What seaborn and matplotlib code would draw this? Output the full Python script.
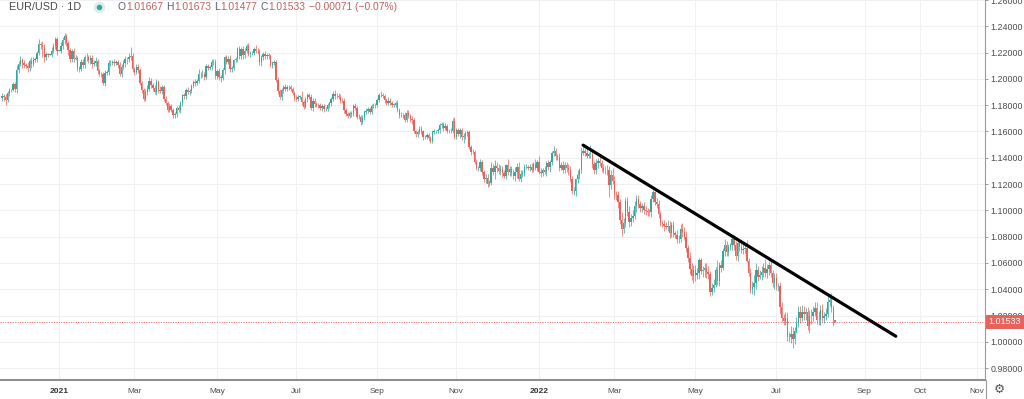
import numpy as np
import pandas as pd
import matplotlib
matplotlib.use("Agg")
import matplotlib.pyplot as plt
import seaborn as sns

# EUR/USD daily candles, first bar 2020-11-19, last bar 2022-08-16
first_open = 1.1855

closes = [
    # Nov 2020
    1.1870, 1.1860, 1.1840, 1.1890, 1.1915, 1.1915, 1.1960, 1.1925,
    # Dec 2020
    1.2070, 1.2115, 1.2145, 1.2120, 1.2105, 1.2100, 1.2080, 1.2135, 1.2110, 1.2145,
    1.2150, 1.2200, 1.2265, 1.2255, 1.2240, 1.2165, 1.2190, 1.2185, 1.2185, 1.2215,
    1.2250, 1.2300, 1.2215,
    # Jan 2021
    1.2215, 1.2250, 1.2295, 1.2325, 1.2270, 1.2220, 1.2150, 1.2210, 1.2155, 1.2160,
    1.2080, 1.2075, 1.2130, 1.2105, 1.2165, 1.2170, 1.2140, 1.2160, 1.2110, 1.2120,
    1.2135,
    # Feb 2021
    1.2060, 1.2040, 1.2035, 1.1965, 1.2045, 1.2050, 1.2120, 1.2120, 1.2130, 1.2120,
    1.2125, 1.2105, 1.2040, 1.2090, 1.2120, 1.2155, 1.2150, 1.2165, 1.2175, 1.2075,
    # Mar 2021
    1.2050, 1.2090, 1.2065, 1.1965, 1.1915, 1.1850, 1.1900, 1.1925, 1.1985, 1.1950,
    1.1930, 1.1900, 1.1975, 1.1915, 1.1905, 1.1935, 1.1850, 1.1815, 1.1765, 1.1795,
    1.1765, 1.1725, 1.1730,
    # Apr 2021
    1.1780, 1.1760, 1.1815, 1.1875, 1.1870, 1.1915, 1.1900, 1.1910, 1.1945, 1.1980,
    1.1965, 1.1985, 1.2035, 1.2035, 1.2035, 1.2015, 1.2095, 1.2085, 1.2090, 1.2125,
    1.2125, 1.2020,
    # May 2021
    1.2060, 1.2015, 1.2005, 1.2065, 1.2165, 1.2130, 1.2150, 1.2075, 1.2080, 1.2140,
    1.2150, 1.2225, 1.2175, 1.2225, 1.2180, 1.2215, 1.2250, 1.2190, 1.2195, 1.2195,
    1.2225,
    # Jun 2021
    1.2215, 1.2210, 1.2125, 1.2165, 1.2190, 1.2175, 1.2180, 1.2175, 1.2105, 1.2120,
    1.2125, 1.1995, 1.1905, 1.1860, 1.1915, 1.1940, 1.1925, 1.1935, 1.1935, 1.1925,
    1.1895, 1.1855,
    # Jul 2021
    1.1850, 1.1865, 1.1865, 1.1825, 1.1790, 1.1845, 1.1875, 1.1860, 1.1775, 1.1835,
    1.1810, 1.1805, 1.1800, 1.1780, 1.1795, 1.1770, 1.1770, 1.1800, 1.1815, 1.1845,
    1.1885, 1.1870,
    # Aug 2021
    1.1870, 1.1865, 1.1835, 1.1830, 1.1760, 1.1735, 1.1720, 1.1740, 1.1730, 1.1795,
    1.1780, 1.1710, 1.1710, 1.1675, 1.1700, 1.1745, 1.1755, 1.1770, 1.1750, 1.1795,
    1.1800, 1.1805,
    # Sep 2021
    1.1840, 1.1875, 1.1880, 1.1870, 1.1840, 1.1820, 1.1830, 1.1815, 1.1805, 1.1805,
    1.1815, 1.1765, 1.1725, 1.1725, 1.1725, 1.1690, 1.1740, 1.1720, 1.1695, 1.1685,
    1.1600, 1.1580,
    # Oct 2021
    1.1595, 1.1620, 1.1600, 1.1555, 1.1555, 1.1570, 1.1550, 1.1530, 1.1595, 1.1600,
    1.1600, 1.1610, 1.1650, 1.1655, 1.1625, 1.1645, 1.1605, 1.1600, 1.1605, 1.1680,
    1.1560,
    # Nov 2021
    1.1610, 1.1580, 1.1610, 1.1555, 1.1565, 1.1585, 1.1595, 1.1480, 1.1445, 1.1445,
    1.1370, 1.1320, 1.1320, 1.1370, 1.1290, 1.1235, 1.1250, 1.1200, 1.1210, 1.1320,
    1.1290, 1.1335,
    # Dec 2021
    1.1320, 1.1300, 1.1315, 1.1285, 1.1265, 1.1345, 1.1290, 1.1315, 1.1285, 1.1260,
    1.1290, 1.1330, 1.1240, 1.1280, 1.1285, 1.1330, 1.1330, 1.1320, 1.1330, 1.1310,
    1.1350, 1.1325, 1.1370,
    # Jan 2022
    1.1295, 1.1285, 1.1310, 1.1295, 1.1360, 1.1330, 1.1365, 1.1440, 1.1455, 1.1410,
    1.1405, 1.1325, 1.1345, 1.1310, 1.1345, 1.1325, 1.1305, 1.1240, 1.1145, 1.1150,
    1.1235,
    # Feb 2022
    1.1270, 1.1305, 1.1440, 1.1450, 1.1440, 1.1415, 1.1425, 1.1425, 1.1350, 1.1305,
    1.1360, 1.1375, 1.1360, 1.1320, 1.1310, 1.1305, 1.1310, 1.1195, 1.1270, 1.1220,
    # Mar 2022
    1.1125, 1.1120, 1.1065, 1.0930, 1.0855, 1.0905, 1.1075, 1.0985, 1.0910, 1.0940,
    1.0960, 1.1030, 1.1090, 1.1050, 1.1015, 1.1030, 1.1005, 1.0995, 1.0985, 1.0985,
    1.1090, 1.1140, 1.1065,
    # Apr 2022
    1.1045, 1.0970, 1.0905, 1.0900, 1.0880, 1.0875, 1.0885, 1.0830, 1.0890, 1.0825,
    1.0810, 1.0780, 1.0785, 1.0855, 1.0835, 1.0800, 1.0715, 1.0640, 1.0555, 1.0500,
    1.0545,
    # May 2022
    1.0505, 1.0525, 1.0620, 1.0540, 1.0550, 1.0560, 1.0530, 1.0515, 1.0380, 1.0410,
    1.0435, 1.0550, 1.0465, 1.0585, 1.0560, 1.0690, 1.0735, 1.0680, 1.0725, 1.0735,
    1.0780, 1.0735,
    # Jun 2022
    1.0650, 1.0750, 1.0720, 1.0695, 1.0705, 1.0715, 1.0615, 1.0520, 1.0405, 1.0415,
    1.0445, 1.0550, 1.0495, 1.0510, 1.0535, 1.0565, 1.0520, 1.0555, 1.0585, 1.0520,
    1.0445, 1.0485,
    # Jul 2022
    1.0425, 1.0425, 1.0265, 1.0180, 1.0160, 1.0185, 1.0040, 1.0035, 1.0060, 1.0020,
    1.0085, 1.0140, 1.0225, 1.0180, 1.0230, 1.0210, 1.0225, 1.0120, 1.0200, 1.0195,
    1.0225,
    # Aug 2022
    1.0260, 1.0165, 1.0165, 1.0245, 1.0180, 1.0195, 1.0210, 1.0300, 1.0320, 1.0260,
    1.01667, 1.01533,
]

# upper / lower wick beyond the body, in pips
wick_up = [
    20, 15, 25, 18, 12, 10, 15, 20,
    35, 20, 30, 15, 20, 15, 25, 20, 30, 20, 15, 15, 40, 15, 30, 25, 15, 10, 5, 25, 20, 15, 15,
    5, 30, 20, 25, 20, 15, 15, 20, 25, 20, 15, 15, 20, 25, 20, 25, 15, 20, 25, 20, 30,
    20, 15, 15, 20, 25, 15, 20, 25, 15, 20, 15, 20, 25, 20, 25, 20, 15, 30, 70, 20,
    15, 20, 25, 15, 20, 15, 20, 25, 30, 20, 15, 20, 25, 20, 30, 15, 15, 20, 15, 20, 15, 15, 20,
    15, 20, 15, 10, 15, 15, 20, 15, 15, 15, 20, 15, 40, 20, 30, 20, 20, 15, 15, 25, 25, 25,
    15, 20, 15, 15, 10, 15, 25, 30, 20, 15, 20, 20, 25, 15, 25, 20, 15, 20, 15, 15, 20,
    30, 20, 20, 15, 15, 25, 15, 20, 15, 15, 15, 15, 20, 15, 15, 15, 20, 15, 15, 20, 15, 15,
    20, 15, 15, 40, 15, 20, 15, 20, 25, 20, 20, 15, 15, 15, 15, 15, 20, 20, 15, 20, 25, 30,
    25, 20, 20, 20, 25, 15, 15, 15, 15, 15, 20, 15, 20, 15, 25, 15, 20, 15, 15, 15, 20, 15,
    15, 20, 25, 15, 15, 15, 30, 25, 15, 15, 15, 25, 15, 20, 15, 20, 25, 20, 15, 20, 15, 15,
    20, 20, 20, 15, 20, 20, 15, 15, 15, 20, 15, 20, 15, 20, 15, 20, 15, 15, 20, 25, 30,
    20, 20, 15, 20, 20, 20, 20, 20, 20, 20, 15, 20, 20, 20, 15, 20, 25, 25, 20, 50, 30, 50,
    30, 35, 30, 20, 20, 10, 45, 25, 20, 30, 40, 30, 40, 25, 20, 20, 20, 15, 20, 30, 20, 40, 15,
    40, 30, 15, 25, 15, 25, 20, 15, 35, 20, 15, 30, 20, 30, 20, 25, 25, 35, 25, 30, 15,
    35, 20, 40, 35, 25, 30, 20, 70, 20, 25, 30, 20, 35, 25, 30, 25, 35, 30, 40, 50,
    40, 25, 30, 20, 60, 40, 20, 30, 45, 30, 40, 40, 30, 25, 25, 25, 35, 30, 20, 25, 30, 15, 10,
    30, 35, 25, 25, 30, 30, 40, 35, 25, 30, 20, 40, 30, 40, 50, 40, 45, 20, 40, 45, 40,
    40, 40, 20, 20, 30, 40, 40, 45, 25, 35, 40, 20, 75, 20, 40, 25, 45, 30, 20, 20, 20, 30,
    30, 20, 25, 45, 40, 40, 60, 25, 45, 45, 60, 50, 30, 40, 45, 35, 65, 40, 30, 30, 30, 40,
    40, 20, 30, 35, 30, 45, 40, 35, 60, 50, 30, 50, 45, 50, 50, 45, 35, 40, 40, 50, 45,
    45, 40, 70, 35, 40, 35, 50, 68, 44, 55, 20, 0.6,
]

wick_dn = [
    20, 25, 40, 15, 20, 12, 10, 25,
    30, 25, 20, 35, 25, 20, 30, 20, 25, 15, 20, 20, 15, 25, 70, 40, 20, 15, 5, 15, 20, 20, 30,
    5, 20, 25, 30, 20, 35, 20, 25, 30, 15, 20, 25, 15, 20, 20, 30, 20, 25, 30, 15, 20,
    20, 15, 20, 15, 20, 15, 20, 20, 15, 20, 15, 25, 20, 25, 15, 30, 40, 25, 20, 20,
    20, 15, 20, 15, 20, 20, 15, 25, 15, 20, 20, 15, 25, 20, 15, 20, 20, 15, 20, 15, 20, 20, 25,
    20, 15, 20, 20, 20, 20, 15, 20, 15, 15, 20, 15, 15, 25, 20, 25, 15, 20, 20, 20, 20, 20,
    20, 20, 25, 15, 25, 20, 20, 20, 20, 15, 15, 20, 25, 20, 25, 20, 20, 15, 20, 15, 15,
    20, 20, 20, 30, 20, 25, 20, 20, 15, 20, 15, 20, 20, 15, 20, 20, 20, 20, 20, 20, 15, 20,
    15, 20, 15, 20, 20, 15, 20, 15, 15, 20, 20, 15, 20, 20, 25, 20, 15, 15, 20, 20, 15, 20,
    15, 15, 15, 15, 20, 20, 15, 20, 20, 15, 20, 15, 15, 25, 20, 15, 15, 15, 20, 20, 15, 20,
    20, 15, 15, 15, 20, 15, 20, 15, 20, 15, 20, 15, 20, 15, 20, 15, 15, 15, 20, 25, 15, 25,
    25, 15, 20, 20, 15, 15, 20, 20, 20, 15, 15, 15, 20, 20, 20, 15, 20, 15, 15, 20, 15,
    15, 15, 30, 20, 40, 20, 20, 15, 25, 20, 20, 15, 20, 20, 20, 20, 30, 20, 15, 15, 20, 55,
    25, 25, 30, 30, 20, 25, 20, 25, 20, 25, 40, 40, 20, 25, 25, 25, 15, 15, 20, 15, 20, 20, 25,
    15, 30, 25, 20, 30, 20, 40, 20, 25, 25, 20, 25, 20, 25, 25, 30, 35, 25, 20, 25, 40,
    30, 30, 20, 20, 30, 20, 20, 30, 30, 30, 25, 35, 25, 30, 25, 25, 35, 90, 30, 20,
    40, 40, 45, 35, 50, 25, 30, 30, 40, 30, 30, 25, 40, 35, 30, 30, 30, 30, 25, 30, 35, 30, 25,
    30, 25, 20, 30, 35, 20, 30, 40, 30, 30, 20, 25, 30, 25, 35, 25, 35, 30, 40, 30, 50,
    40, 30, 45, 25, 45, 60, 45, 40, 30, 20, 30, 20, 30, 40, 25, 15, 40, 30, 30, 30, 35, 40,
    30, 35, 30, 20, 30, 30, 10, 20, 35, 40, 60, 40, 30, 20, 40, 40, 30, 35, 50, 30, 30, 40,
    30, 40, 50, 30, 35, 30, 30, 35, 40, 68, 40, 20, 30, 40, 25, 40, 40, 30, 50, 60, 40,
    30, 30, 40, 40, 25, 35, 30, 20, 30, 30, 45, 5.6,
]

change_text = "\u22120.00071 (\u22120.07%)"
symbol_text = "EUR/USD \u00b7 1D"

tick_dates = ["2021-01-01", "2021-03-01", "2021-05-01", "2021-07-01", "2021-09-01",
              "2021-11-01", "2022-01-01", "2022-03-01", "2022-05-01", "2022-07-01",
              "2022-09-01", "2022-10-01", "2022-11-01"]
tick_labels = ["2021", "Mar", "May", "Jul", "Sep", "Nov", "2022", "Mar", "May", "Jul",
               "Sep", "Oct", "Nov"]

trend_dates = ["2022-02-04", "2022-09-18"]
trend_prices = [1.1496, 1.0043]

price_ticks = [0.98, 1.00, 1.02, 1.04, 1.06, 1.08, 1.10, 1.12, 1.14, 1.16, 1.18,
               1.20, 1.22, 1.24, 1.26]

# build the OHLC table
n = min(len(closes), len(wick_up), len(wick_dn))
dates = pd.bdate_range("2020-11-19", periods=n)
df = pd.DataFrame({"date": dates, "close": closes[:n],
                   "up": wick_up[:n], "dn": wick_dn[:n]})
df["open"] = df["close"].shift(1).fillna(first_open)
body_top = np.maximum(df["open"], df["close"])
body_bot = np.minimum(df["open"], df["close"])
df["high"] = body_top + df["up"] * 1e-4
df["low"] = body_bot - df["dn"] * 1e-4
df["x"] = np.arange(n)
df["rising"] = df["close"] >= df["open"]


def to_x(d):
    # bar index; past the last bar TradingView counts one slot per calendar day
    d = pd.Timestamp(d)
    if d <= dates[-1]:
        return int(dates.searchsorted(d))
    return n - 1 + (d - dates[-1]).days


UP = "#35a89c"
DOWN = "#e8625b"

sns.set_theme(style="white")
plt.rcParams["font.family"] = ["Liberation Sans", "DejaVu Sans"]

fig = plt.figure(figsize=(10.24, 3.99), dpi=100)
ax = fig.add_axes([0, 19 / 399, 985 / 1024, 380 / 399])

colors = np.where(df["rising"], UP, DOWN)
ax.vlines(df["x"], df["low"], df["high"], colors=colors, lw=0.6, alpha=0.85, zorder=2)
heights = np.maximum(body_top - body_bot, 0.00012)
ax.bar(df["x"], heights, bottom=body_bot, width=0.78, color=colors,
       linewidth=0, zorder=3)

# trend line
trend = pd.DataFrame({"x": [to_x(d) for d in trend_dates], "price": trend_prices})
sns.lineplot(data=trend, x="x", y="price", ax=ax, color="black", lw=2.3, zorder=5)

last = df.iloc[-1]
ax.axhline(last["close"], color=DOWN, lw=0.7, ls=(0, (1, 1.5)), zorder=1)

# axes range: 480 px for the 261 bars of 2021, Jan 2021 grid line at px 59
px_per_bar = 480 / 261
x0 = to_x("2021-01-01") - 59 / px_per_bar
ax.set_xlim(x0, x0 + 985 / px_per_bar)
ax.set_ylim(0.9710, 1.2589)

ax.set_xticks([to_x(d) for d in tick_dates])
ax.set_xticklabels(tick_labels)
ax.set_yticks(price_ticks)
ax.set_yticklabels([f"{p:.5f}" for p in price_ticks])
ax.yaxis.tick_right()
ax.set_xlabel("")
ax.set_ylabel("")

ax.grid(True, color="#eef0f4", lw=0.8)
ax.tick_params(axis="y", length=2.5, width=0.6, color="#8a8a8a",
               labelsize=6.4, labelcolor="#4a4a4a", pad=1.5)
ax.tick_params(axis="x", length=0, labelsize=6.0, labelcolor="#4a4a4a", pad=6)
for lbl in ax.get_xticklabels():
    if lbl.get_text().isdigit():
        lbl.set_fontweight("bold")
        lbl.set_color("#333333")

for side in ["top", "left"]:
    ax.spines[side].set_visible(False)
ax.spines["right"].set_color("#9a9a9a")
ax.spines["right"].set_linewidth(0.8)
ax.spines["bottom"].set_color("#8f8f8f")
ax.spines["bottom"].set_linewidth(1.5)

# last price tag on the price scale
ax.annotate(f"{last['close']:.5f}", xy=(1.0, last["close"]),
            xycoords=("axes fraction", "data"), xytext=(2.6, 0),
            textcoords="offset points", ha="left", va="center",
            color="white", fontsize=6.4, annotation_clip=False, zorder=10,
            bbox=dict(boxstyle="square,pad=0.3", fc=DOWN, ec="none"))

# overlay in pixel units for the legend and the corner
ov = fig.add_axes([0, 0, 1, 1])
ov.set_xlim(0, 1024)
ov.set_ylim(399, 0)
ov.axis("off")

ov.plot([985.5, 985.5], [380, 399], color="#9a9a9a", lw=0.8)
ov.text(999, 389.5, "\u2699", ha="center", va="center", fontsize=9,
        color="#555555", family=["DejaVu Sans"])

ov.text(9, 7, symbol_text, ha="left", va="center", fontsize=7.8, color="#4a4a4a")
ov.scatter([99], [6.5], s=70, color=UP, alpha=0.18, linewidths=0)
ov.scatter([99], [6.5], s=16, color=UP, linewidths=0)

GREY = "#5d606b"
RED = "#c0625c"
pieces = [("O", GREY, 0), (f"{last['open']:.5f}", RED, 0),
          ("H", GREY, 2.5), (f"{last['high']:.5f}", RED, 0),
          ("L", GREY, 2.5), (f"{last['low']:.5f}", RED, 0),
          ("C", GREY, 2.5), (f"{last['close']:.5f}", RED, 0),
          (change_text, RED, 3)]
prev = ov.text(118, 7, pieces[0][0], ha="left", va="center", fontsize=7.4,
               color=pieces[0][1])
for txt, col, gap in pieces[1:]:
    prev = ov.annotate(txt, xy=(1, 0.5), xycoords=prev, xytext=(gap, 0),
                       textcoords="offset points", ha="left", va="center",
                       fontsize=7.4, color=col)

fig.savefig("out.png", dpi=100)
